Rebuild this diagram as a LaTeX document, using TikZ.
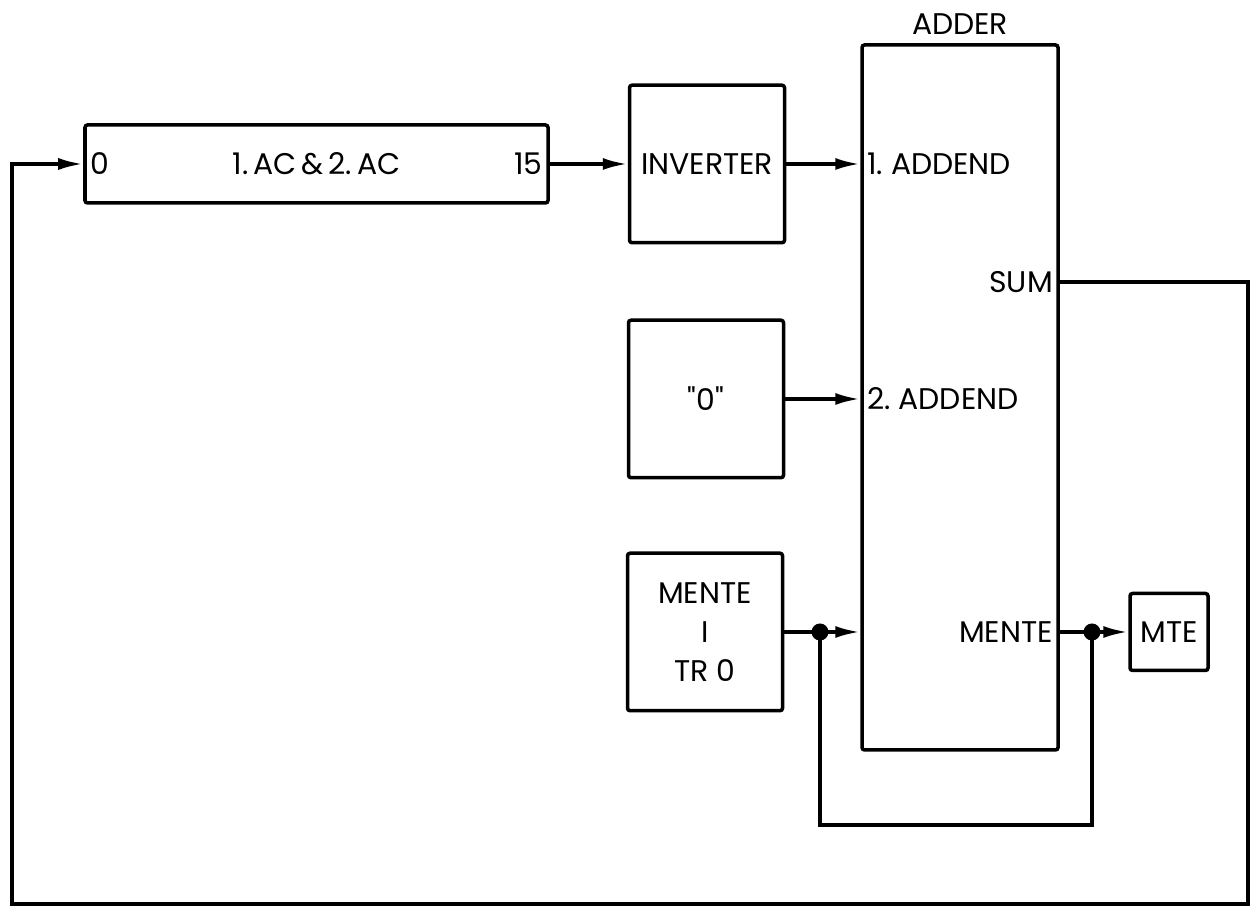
\documentclass[tikz,border=0pt]{standalone}
\usepackage{fontspec}
\setmainfont{Poppins}
\usetikzlibrary{positioning,arrows.meta,calc}

\begin{document}
\begin{tikzpicture}[
    line width=2pt,
    block/.style={rectangle, draw, rounded corners=0.5mm, minimum width=3.1cm, minimum height=3.15cm, inner sep=2pt, font=\fontsize{17}{22}\selectfont, align=center},
    port/.style={font=\fontsize{17}{20}\selectfont, inner sep=3pt},
    arr/.style={-{Latex[length=5mm,width=2.4mm]}},
    junction/.style={circle, fill, inner sep=0pt, minimum size=3.4mm}
]
  \useasboundingbox (0,0) rectangle (25.06,18.14);
  % blocks
  \node[block, minimum width=9.26cm, minimum height=1.56cm] (ac) at (6.33,14.86) {1.\,AC\,\&\,2.\,AC};
  \node[port, anchor=west] (ac0) at (ac.west) {0};
  \node[port, anchor=east] (ac15) at (ac.east) {15};
  \node[block] (inv) at (14.14,14.86) {INVERTER};
  \node[block, minimum width=3.92cm, minimum height=14.1cm] (adder) at (19.2,10.19) {};
  \node[port, above=1pt of adder] (adderlbl) {ADDER};
  \node[block] (zero) at (14.12,10.16) {\textquotedbl 0\textquotedbl};
  \node[block] (mente) at (14.1,5.5) {MENTE\\I\\TR 0};
  \node[block, minimum width=1.56cm, minimum height=1.54cm] (mte) at (23.38,5.5) {MTE};

  % adder ports
  \node[port, anchor=west] (add1) at (adder.west |- inv) {1.\ ADDEND};
  \node[port, anchor=west] (add2) at (adder.west |- zero) {2.\ ADDEND};
  \coordinate (sumout) at ($(adder.east)+(0,2.31)$);
  \node[port, anchor=east] (sum) at (sumout) {SUM};
  \node[port, anchor=east] (menteout) at (adder.east |- mente) {MENTE};

  % junctions
  \node[junction] (jl) at (16.4,5.5) {};
  \node[junction] (jr) at (21.84,5.5) {};
  \coordinate (cr) at (24.96,0.06);
  \coordinate (cl) at (0.24,0.06);

  % connectors
  \draw[arr] (ac) -- (inv);
  \draw[arr] (inv) -- (inv -| adder.west);
  \draw[arr] (zero) -- (zero -| adder.west);
  \draw (mente) -- (jl.center);
  \draw[arr] (jl.center) -- (jl -| adder.west);
  \draw (adder.east |- jr) -- (jr.center);
  \draw[arr] (jr.center) -- (mte);
  \draw (jl.center) -- ++(0,-3.86) -| (jr.center);
  \draw[arr] (sumout) -| (cr) -- (cl) |- (ac);
\end{tikzpicture}
\end{document}
